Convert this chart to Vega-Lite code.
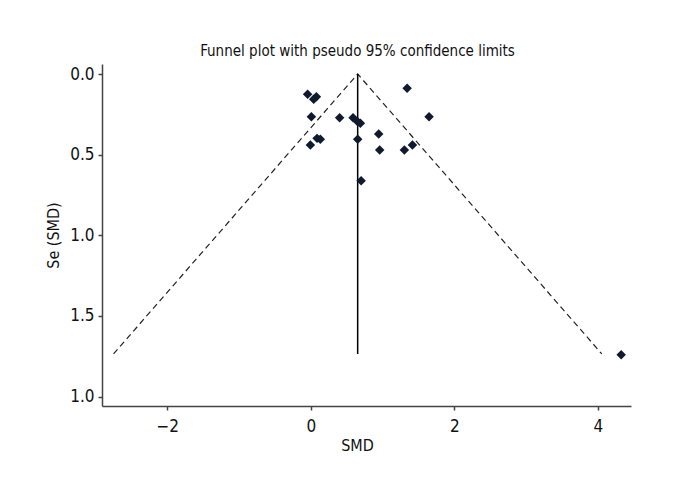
{
  "$schema": "https://vega.github.io/schema/vega-lite/v6.json",
  "width": 529,
  "height": 342,
  "autosize": {"type": "none"},
  "padding": {"left": 102, "top": 64, "right": 49, "bottom": 94},
  "background": "white",
  "title": {
    "text": "Funnel plot with pseudo 95% confidence limits",
    "font": "DejaVu Sans Condensed, Roboto, sans-serif",
    "fontSize": 15,
    "fontWeight": "normal",
    "color": "#111111",
    "anchor": "middle",
    "dx": -9,
    "offset": 5
  },
  "config": {
    "view": {"stroke": null},
    "axis": {
      "grid": false,
      "domainColor": "#444444",
      "domainWidth": 1.5,
      "tickColor": "#444444",
      "tickWidth": 1.5,
      "tickSize": 4,
      "labelFont": "DejaVu Sans Condensed, Roboto, sans-serif",
      "labelFontSize": 17,
      "labelColor": "#111111",
      "titleFont": "DejaVu Sans Condensed, Roboto, sans-serif",
      "titleFontSize": 16,
      "titleFontWeight": "normal",
      "titleColor": "#111111"
    }
  },
  "datasets": {
    "funnel": [
      {"smd": -2.749, "se": 1.735, "o": 1},
      {"smd": 0.652, "se": 0, "o": 2},
      {"smd": 4.053, "se": 1.735, "o": 3}
    ],
    "mid": [
      {"smd": 0.652, "se": 0, "se2": 1.735}
    ],
    "studies": [
      {"smd": -0.045, "se": 0.126},
      {"smd": 0.039, "se": 0.157},
      {"smd": 0.077, "se": 0.141},
      {"smd": 1.341, "se": 0.089},
      {"smd": 0.007, "se": 0.265},
      {"smd": 0.401, "se": 0.271},
      {"smd": 0.588, "se": 0.271},
      {"smd": 0.652, "se": 0.296},
      {"smd": 0.69, "se": 0.306},
      {"smd": 1.647, "se": 0.265},
      {"smd": 0.086, "se": 0.399},
      {"smd": 0.132, "se": 0.405},
      {"smd": -0.007, "se": 0.44},
      {"smd": 0.652, "se": 0.405},
      {"smd": 0.945, "se": 0.372},
      {"smd": 0.959, "se": 0.471},
      {"smd": 1.303, "se": 0.471},
      {"smd": 1.415, "se": 0.44},
      {"smd": 0.7, "se": 0.661},
      {"smd": 4.323, "se": 1.74}
    ]
  },
  "encoding": {
    "x": {
      "field": "smd",
      "type": "quantitative",
      "scale": {"domain": [-2.91, 4.46], "nice": false, "zero": false},
      "axis": {
        "values": [-2, 0, 2, 4],
        "title": "SMD",
        "titleX": 255,
        "labelPadding": 8,
        "titlePadding": 3
      }
    },
    "y": {
      "field": "se",
      "type": "quantitative",
      "scale": {"domain": [-0.062, 2.058], "nice": false, "zero": false, "reverse": true},
      "axis": {
        "values": [0, 0.5, 1, 1.5, 2],
        "labelExpr": "datum.value == 2 ? '1.0' : format(datum.value, '.1f')",
        "title": "Se (SMD)",
        "labelPadding": 4,
        "titlePadding": 8
      }
    }
  },
  "layer": [
    {
      "data": {"name": "funnel"},
      "mark": {"type": "line", "strokeDash": [6, 4], "color": "#222222", "strokeWidth": 1.2},
      "encoding": {"order": {"field": "o", "type": "quantitative"}}
    },
    {
      "data": {"name": "mid"},
      "mark": {"type": "rule", "color": "#000000", "strokeWidth": 1.5},
      "encoding": {"y2": {"field": "se2"}}
    },
    {
      "data": {"name": "studies"},
      "mark": {"type": "point", "shape": "diamond", "filled": true, "size": 90, "color": "#0f1a2e", "opacity": 1}
    }
  ]
}
